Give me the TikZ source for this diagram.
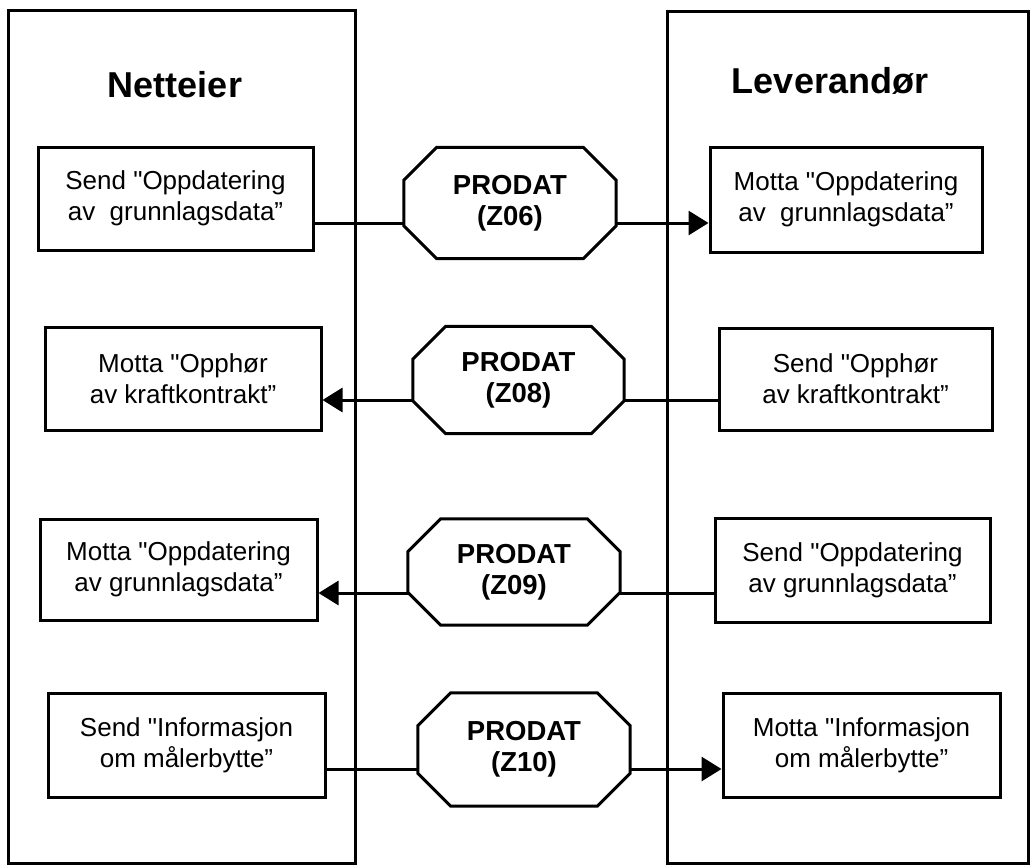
\documentclass[tikz,border=0pt]{standalone}
\usepackage{fontspec}
\setmainfont{Liberation Sans}
\usetikzlibrary{arrows.meta,calc}
\newcommand\sq{{\XeTeXglyph\XeTeXcharglyph"22}}
\newcommand\octoframe[1]{%
  \draw[octline] ($(#1.north west)+(0,33)$) -- ($(#1.north west)+(33,0)$)
    -- ($(#1.north east)+(-33,0)$) -- ($(#1.north east)+(0,33)$)
    -- ($(#1.south east)+(0,-33)$) -- ($(#1.south east)+(-33,0)$)
    -- ($(#1.south west)+(33,0)$) -- ($(#1.south west)+(0,-33)$) -- cycle;}
\begin{document}
\begin{tikzpicture}[x=1pt,y=-1pt,
  col/.style={draw, line width=3pt, rectangle, inner sep=0pt},
  msgbox/.style={draw, line width=3pt, rectangle, inner sep=0pt, align=center,
    font=\fontsize{26}{31}\selectfont},
  octtext/.style={inner sep=0pt, align=center, font=\fontsize{27.5}{31}\selectfont\bfseries},
  octline/.style={line width=3pt, line join=miter},
  conn/.style={line width=3pt},
  arr/.style={conn, -{Triangle[length=20pt,width=24pt]}},
  coltitle/.style={inner sep=0pt, font=\fontsize{36}{40}\selectfont\bfseries}]
\useasboundingbox[fill=white] (0,0) rectangle (1035,867);

% columns
\node[col, minimum width=347pt, minimum height=852pt] (colL) at (181.5,437) {};
\node[col, minimum width=361pt, minimum height=851pt] (colR) at (847.5,437.5) {};
\node[coltitle] (tL) at (175,85) {Netteier};
\node[coltitle] (tR) at (830,81) {Leverandør};

% row 1
\node[msgbox, minimum width=275pt, minimum height=103pt] (L1) at (175.5,198.5)
  {Send \sq Oppdatering\\av\ \ grunnlagsdata”};
\node[octtext, minimum width=212pt, minimum height=111pt] (O1) at (510,203) {PRODAT\\(Z06)};
\node[msgbox, minimum width=272pt, minimum height=105pt] (R1) at (846,199.5)
  {Motta \sq Oppdatering\\av\ \ grunnlagsdata”};
\octoframe{O1}
\coordinate (c1) at (0,223);
\draw[conn] (L1.east |- c1) -- (O1.west |- c1);
\draw[arr] (O1.east |- c1) -- (R1.west |- c1);

% row 2
\node[msgbox, minimum width=276pt, minimum height=103pt] (L2) at (183,378.5)
  {Motta \sq Opphør\\av kraftkontrakt”};
\node[octtext, minimum width=211pt, minimum height=107pt] (O2) at (518.5,380) {PRODAT\\(Z08)};
\node[msgbox, minimum width=273pt, minimum height=102pt] (R2) at (855.5,379)
  {Send \sq Opphør\\av kraftkontrakt”};
\octoframe{O2}
\coordinate (c2) at (0,400);
\draw[conn] (R2.west |- c2) -- (O2.east |- c2);
\draw[arr] (O2.west |- c2) -- (L2.east |- c2);

% row 3
\node[msgbox, minimum width=277pt, minimum height=101pt] (L3) at (178.5,569.5)
  {Motta \sq Oppdatering\\av grunnlagsdata”};
\node[octtext, minimum width=212pt, minimum height=106pt] (O3) at (514,572) {PRODAT\\(Z09)};
\node[msgbox, minimum width=275pt, minimum height=104pt] (R3) at (852.5,570)
  {Send \sq Oppdatering\\av grunnlagsdata”};
\octoframe{O3}
\coordinate (c3) at (0,593);
\draw[conn] (R3.west |- c3) -- (O3.east |- c3);
\draw[arr] (O3.west |- c3) -- (L3.east |- c3);

% row 4
\node[msgbox, minimum width=277pt, minimum height=104pt] (L4) at (186.5,745)
  {Send \sq Informasjon\\om målerbytte”};
\node[octtext, minimum width=212pt, minimum height=113pt] (O4) at (524,749.5) {PRODAT\\(Z10)};
\node[msgbox, minimum width=277pt, minimum height=104pt] (R4) at (861.5,745)
  {Motta \sq Informasjon\\om målerbytte”};
\octoframe{O4}
\coordinate (c4) at (0,769);
\draw[conn] (L4.east |- c4) -- (O4.west |- c4);
\draw[arr] (O4.east |- c4) -- (R4.west |- c4);
\end{tikzpicture}
\end{document}
